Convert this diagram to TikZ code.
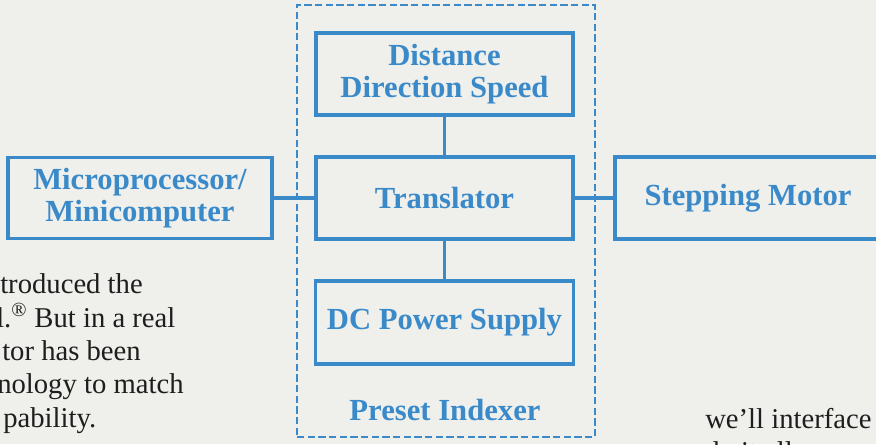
\documentclass[tikz,border=0pt]{standalone}
\usepackage{fontspec}
\setmainfont{Liberation Serif}
\definecolor{diagblue}{RGB}{58,138,202}
\definecolor{paper}{RGB}{239,239,236}
\definecolor{ink}{RGB}{30,30,30}
\begin{document}
\begin{tikzpicture}[x=0.75pt,y=-0.75pt,
  blockbox/.style={draw=diagblue,line width=2.3pt,text=diagblue,font=\fontsize{23}{24.5}\selectfont\bfseries,align=center,inner sep=0pt},
  frame/.style={draw=diagblue,line width=1.9pt,dash pattern=on 5.5pt off 2.5pt,inner sep=0pt},
  wire/.style={draw=diagblue,line width=2.3pt},
  body/.style={text=ink,font=\fontsize{21.5}{25}\selectfont,anchor=base west,inner sep=0pt}]
\useasboundingbox (0,0) rectangle (876,444);
\fill[paper] (0,0) rectangle (876,444);
\clip (0,0) rectangle (876,444);
% dashed preset indexer frame
\node[frame,minimum width=223.5pt,minimum height=324pt] (frame) at (446,221) {};
\node[text=diagblue,font=\fontsize{23}{25}\selectfont\bfseries,inner sep=0pt] (idx) at (445,410) {Preset Indexer};
% blocks
\node[blockbox,minimum width=192.75pt,minimum height=61.5pt] (dist) at (444.5,74) {Distance\\Direction Speed};
\node[blockbox,minimum width=192.75pt,minimum height=61.5pt] (trans) at (444.5,198) {Translator};
\node[blockbox,minimum width=193.5pt,minimum height=62.25pt] (dc) at (444.5,322.5) {DC Power Supply};
\node[blockbox,minimum width=198pt,minimum height=60.75pt] (micro) at (140,198) {Microprocessor/\\Minicomputer};
\node[blockbox,minimum width=199.5pt,minimum height=61.5pt] (step) at (748,198) {Stepping Motor};
% connectors
\draw[wire] (micro.east) -- (trans.west);
\draw[wire] (trans.east) -- (step.west);
\draw[wire] (dist.south) -- (trans.north);
\draw[wire] (trans.south) -- (dc.north);
% body text fragments
\node[body] (b1) at (0,293) {troduced the};
\node[body] (b2) at (-4,327) {l.\textsuperscript{®} But in a real};
\node[body] (b3) at (2,360) {tor has been};
\node[body] (b4) at (-3,393) {nology to match};
\node[body] (b5) at (3,427) {pability.};
\node[body] (r1) at (705,428) {we'll interface};
\node[body] (r2) at (705,461) {do it all.};
\end{tikzpicture}
\end{document}
